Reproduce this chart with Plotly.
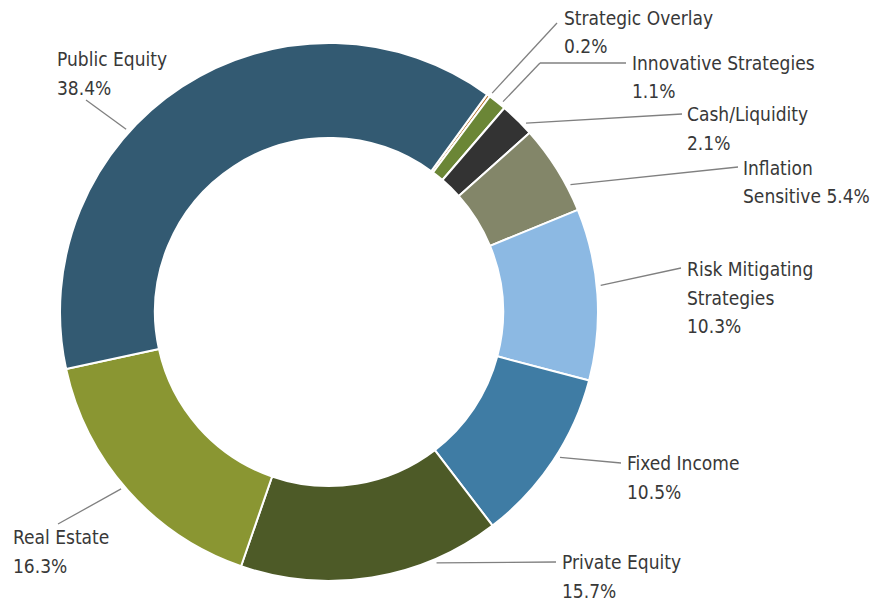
import math
import plotly.graph_objects as go

# ---------------- data ----------------
categories = ["Strategic Overlay", "Innovative Strategies", "Cash/Liquidity",
              "Inflation Sensitive", "Risk Mitigating Strategies", "Fixed Income",
              "Private Equity", "Real Estate", "Public Equity"]
values = [0.2, 1.1, 2.1, 5.4, 10.3, 10.5, 15.7, 16.3, 38.4]
# how each label is broken into lines ({p} = percentage)
label_templates = [["Strategic Overlay", "{p}"],
                   ["Innovative Strategies", "{p}"],
                   ["Cash/Liquidity", "{p}"],
                   ["Inflation", "Sensitive {p}"],
                   ["Risk Mitigating", "Strategies", "{p}"],
                   ["Fixed Income", "{p}"],
                   ["Private Equity", "{p}"],
                   ["Real Estate", "{p}"],
                   ["Public Equity", "{p}"]]

# ---------------- style / layout ----------------
colors = ["#b5722b", "#6b8636", "#333333", "#838669", "#8cb9e3",
          "#3f7ca4", "#4d5a27", "#8a9632", "#335a72"]
W, H = 870, 602
CX, CY, R = 329, 312, 269
HOLE = 0.647
ROTATION = 36
FONT = "DejaVu Sans Condensed, Liberation Sans Narrow, sans-serif"
FS = 19
LINE_H = 28.5
TEXT_COLOR = "#383838"
LEADER_COLOR = "#808080"

# label text position (left x, first line center y) in px
label_pos = [(562, 18), (630, 63), (685, 114), (741, 168), (685, 269),
             (625, 463), (560, 562), (11, 537), (55, 59)]
# leader: anchor angle on ring (deg clockwise from top) and path points toward label
leader_angle = [36.7, 39.6, 46.2, 62.2, 84.4, 122.2, 156.8, 229.6, 312.0]
leader_path = [[(557, 23)], [(540, 63), (626, 63)], [(682, 114)], [(738, 167)],
               [(681, 268)], [(621, 463)], [(556, 562)], [(58, 524)], [(86, 100)]]


def px(x):
    return x / W


def py(y):
    return 1 - y / H


fig = go.Figure(go.Pie(
    labels=categories, values=values, sort=False, direction="clockwise",
    rotation=ROTATION, hole=HOLE, textinfo="none", hoverinfo="label+percent",
    marker=dict(colors=colors, line=dict(color="white", width=2)),
    domain=dict(x=[px(CX - R), px(CX + R)], y=[py(CY + R), py(CY - R)]),
    showlegend=False,
))

annotations = []
shapes = []
for i, (cat, v) in enumerate(zip(categories, values)):
    pct = f"{v:.1f}%"
    lines = [t.format(p=pct) for t in label_templates[i]]
    lx, ly = label_pos[i]
    for k, ln in enumerate(lines):
        annotations.append(dict(
            x=px(lx), y=py(ly + k * LINE_H), xref="paper", yref="paper",
            text=ln, showarrow=False, xanchor="left", yanchor="middle",
            font=dict(family=FONT, size=FS, color=TEXT_COLOR)))
    a = math.radians(leader_angle[i])
    r0 = R + 4
    pts = [(CX + r0 * math.sin(a), CY - r0 * math.cos(a))] + leader_path[i]
    for (x0, y0), (x1, y1) in zip(pts[:-1], pts[1:]):
        shapes.append(dict(type="line", xref="paper", yref="paper",
                           x0=px(x0), y0=py(y0), x1=px(x1), y1=py(y1),
                           line=dict(color=LEADER_COLOR, width=1.3)))

fig.update_layout(width=W, height=H, margin=dict(l=0, r=0, t=0, b=0),
                  paper_bgcolor="white", plot_bgcolor="white",
                  annotations=annotations, shapes=shapes)
fig.write_html("out.html")
